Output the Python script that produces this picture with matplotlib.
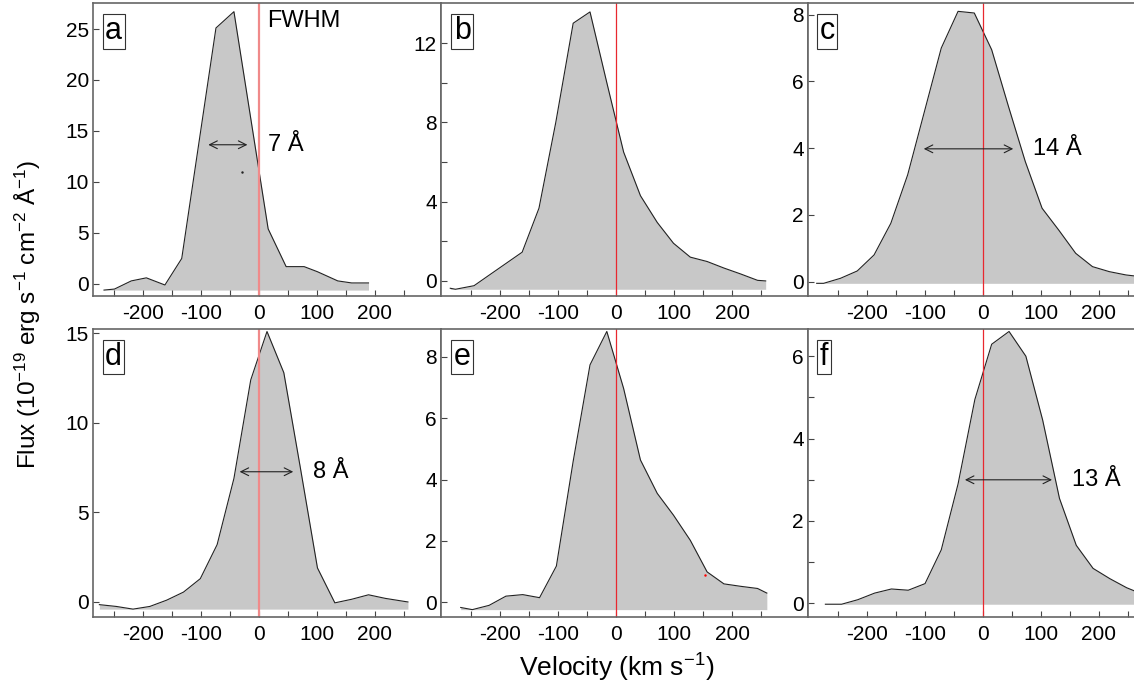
import matplotlib
matplotlib.use("Agg")
import matplotlib.pyplot as plt
import numpy as np

plt.rcParams['font.family'] = ['Liberation Sans', 'DejaVu Sans']
plt.rcParams['mathtext.fontset'] = 'custom'
plt.rcParams['mathtext.rm'] = 'Liberation Sans'
plt.rcParams['mathtext.it'] = 'Liberation Sans'
plt.rcParams['axes.unicode_minus'] = False

# velocity (km/s) and flux for each panel
va = [-267, -249, -220, -194, -162, -133, -74, -43, 16, 47, 78, 101, 136, 160, 189]
fa = [-0.6, -0.5, 0.3, 0.6, -0.1, 2.5, 25.1, 26.7, 5.4, 1.7, 1.7, 1.2, 0.3, 0.1, 0.1]

vb = [-286, -277, -245, -220, -191, -162, -133, -104, -74, -45, -16, 13, 42, 71, 99, 128, 157, 186, 215, 244, 258]
fb = [-0.37, -0.42, -0.24, 0.27, 0.86, 1.45, 3.67, 8.0, 13.0, 13.57, 10.0, 6.5, 4.3, 2.95, 1.9, 1.2, 0.98, 0.65, 0.35, 0.03, 0.0]

vc = [-287, -275, -246, -217, -188, -159, -130, -101, -72, -43, -15, 15, 44, 73, 102, 131, 160, 189, 218, 247, 262]
fc = [-0.05, -0.05, 0.1, 0.32, 0.8, 1.75, 3.2, 5.1, 7.0, 8.1, 8.05, 6.95, 5.25, 3.6, 2.2, 1.54, 0.85, 0.45, 0.3, 0.2, 0.17]

vd = [-275, -246, -217, -188, -159, -130, -101, -72, -43, -14, 14, 43, 72, 101, 131, 160, 189, 218, 247, 257]
fd = [-0.15, -0.25, -0.4, -0.25, 0.1, 0.55, 1.3, 3.2, 6.9, 12.4, 15.1, 12.8, 7.4, 1.9, -0.05, 0.15, 0.4, 0.2, 0.05, 0.0]

ve = [-268, -248, -219, -190, -161, -132, -103, -74, -45, -16, 13, 42, 71, 99, 128, 157, 186, 215, 244, 260]
fe = [-0.17, -0.24, -0.1, 0.2, 0.25, 0.15, 1.18, 4.6, 7.74, 8.83, 6.97, 4.64, 3.55, 2.84, 2.02, 0.99, 0.6, 0.52, 0.45, 0.3]

vf = [-272, -244, -216, -187, -158, -129, -100, -72, -43, -14, 15, 45, 74, 103, 132, 161, 190, 219, 248, 262]
ff = [-0.02, -0.02, 0.09, 0.25, 0.35, 0.32, 0.48, 1.3, 2.9, 4.95, 6.29, 6.6, 6.0, 4.45, 2.55, 1.41, 0.85, 0.6, 0.38, 0.3]

letters = ['a', 'b', 'c', 'd', 'e', 'f']
# FWHM arrows: (x_start, x_end, y, label)
fwhm = {'a': (-92, -15, 13.65, '7 Å'),
        'c': (-107, 57, 3.98, '14 Å'),
        'd': (-38, 64, 7.27, '8 Å'),
        'f': (-36, 124, 3.0, '13 Å')}

W, H = 1134, 688
fig = plt.figure(figsize=(W / 100, H / 100), dpi=100)

def add_ax(x0, y0, x1, y1):
  return fig.add_axes([x0 / W, 1 - y1 / H, (x1 - x0) / W, (y1 - y0) / H])

cols = [(93, 441), (441, 808), (808, 1140)]
rows = [(3, 296), (329, 617)]
xlims = [(-286, 314), (-302, 331), (-302, 271)]
ylims = [(-1.18, 27.55), (-0.76, 14.02), (-0.43, 8.35),
         (-0.84, 15.24), (-0.48, 8.91), (-0.33, 6.66)]
ymajor = [np.arange(0, 26, 5), np.arange(0, 13, 4), np.arange(0, 9, 2),
          np.arange(0, 16, 5), np.arange(0, 9, 2), np.arange(0, 7, 2)]
yminor = [None, np.arange(0, 14, 2), None, None, None, np.arange(0, 7, 1)]
data = [(va, fa), (vb, fb), (vc, fc), (vd, fd), (ve, fe), (vf, ff)]

for i, (v, f) in enumerate(data):
  r, c = divmod(i, 3)
  ax = add_ax(cols[c][0], rows[r][0], cols[c][1], rows[r][1])
  base = min(f)
  ax.fill_between(v, f, base, color='#c8c8c8', lw=0)
  ax.plot(v, f, color='#222222', lw=0.8)
  if c == 0:
    ax.axvline(0, color='#f08a8a', lw=1.6)
  else:
    ax.axvline(0, color='#e8282f', lw=0.9)
  ax.set_xlim(*xlims[c])
  ax.set_ylim(*ylims[i])
  ax.set_xticks(np.arange(-250, 260, 50), minor=True)
  ax.set_xticks([-200, -100, 0, 100, 200])
  ax.set_yticks(ymajor[i])
  if yminor[i] is not None:
    ax.set_yticks(yminor[i], minor=True)
  ax.tick_params(which='both', direction='in', length=4, width=0.8, color='#444444',
                 labelsize=15, pad=3)
  ax.tick_params(axis='x', pad=6)
  for s in ax.spines.values():
    s.set_color('#666666')
    s.set_linewidth(1.2)
  ax.text(0.035, 0.955, letters[i], transform=ax.transAxes, fontsize=22,
          ha='left', va='top',
          bbox=dict(boxstyle='square,pad=0.08', fc='white', ec='#333333', lw=0.8))
  if letters[i] in fwhm:
    x0, x1, y, lab = fwhm[letters[i]]
    ax.annotate('', xy=(x1, y), xytext=(x0, y),
                arrowprops=dict(arrowstyle='<->', color='#222222', lw=0.8,
                                mutation_scale=14))
    ax.text(x1 + 30, y, lab, fontsize=17, ha='left', va='center')
  if letters[i] == 'a':
    ax.text(14, 25.8, 'FWHM', fontsize=17, ha='left', va='center')
    ax.plot([-29], [11.0], marker='.', ms=1.5, color='#222222')
  if letters[i] == 'e':
    ax.plot([153], [0.9], marker='.', ms=1.5, color='red')

fig.text(617 / W, 1 - 668 / H, 'Velocity (km s$^{-1}$)', fontsize=19,
         ha='center', va='center')
fig.text(28 / W, 1 - 314 / H,
         'Flux (10$^{-19}$ erg s$^{-1}$ cm$^{-2}$ Å$^{-1}$)', fontsize=17.5,
         rotation=90, ha='center', va='center')

fig.savefig('out.png', dpi=100)
